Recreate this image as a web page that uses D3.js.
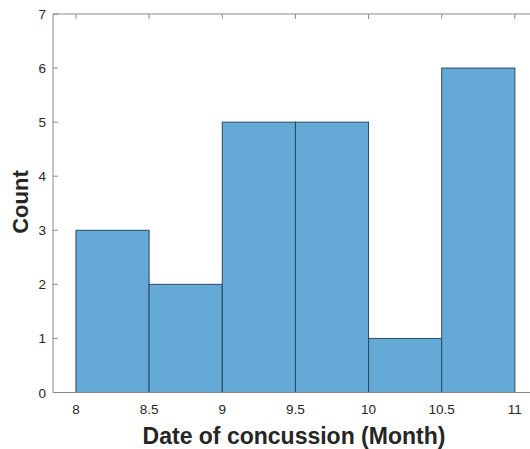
<!DOCTYPE html>
<html><head><meta charset="utf-8">
<script src="https://cdn.jsdelivr.net/npm/d3@7"></script>
<style>body{margin:0;background:#fff}svg{display:block}</style>
</head><body>
<script>
const binEdges = [8, 8.5, 9, 9.5, 10, 10.5, 11];
const counts = [3, 2, 5, 5, 1, 6];
const xTicks = [8, 8.5, 9, 9.5, 10, 10.5, 11];
const yTicks = [0, 1, 2, 3, 4, 5, 6, 7];

const W = 530, H = 449;
const svg = d3.select("body").append("svg").attr("width", W).attr("height", H);
const mLeft = 53, mTop = 14, mBottom = 392.5;
const x = d3.scaleLinear().domain([7.843, 11.157]).range([mLeft, mLeft + (11.157 - 7.843) * 146.3]);
const y = d3.scaleLinear().domain([0, 7]).range([mBottom, mTop]);
const axisCol = "#8a8a8a", textCol = "#262626";
const font = "Helvetica, Arial, 'Liberation Sans', sans-serif";

const bins = counts.map((c, i) => ({x0: binEdges[i], x1: binEdges[i + 1], c}));
svg.selectAll("rect.bar").data(bins).enter().append("rect")
  .attr("x", d => x(d.x0)).attr("width", d => x(d.x1) - x(d.x0))
  .attr("y", d => y(d.c)).attr("height", d => y(0) - y(d.c))
  .attr("fill", "#65a9d7").attr("stroke", "#2a4a60").attr("stroke-width", 1);

const xr = x.range();
svg.append("line").attr("x1", mLeft).attr("x2", xr[1]).attr("y1", mBottom).attr("y2", mBottom).attr("stroke", axisCol);
svg.append("line").attr("x1", mLeft).attr("x2", xr[1]).attr("y1", mTop).attr("y2", mTop).attr("stroke", axisCol);
svg.append("line").attr("x1", mLeft).attr("x2", mLeft).attr("y1", mTop).attr("y2", mBottom).attr("stroke", axisCol);

const g = svg.append("g");
xTicks.forEach(t => {
  g.append("line").attr("x1", x(t)).attr("x2", x(t)).attr("y1", mTop).attr("y2", mTop + 5).attr("stroke", axisCol);
  g.append("text").attr("x", x(t)).attr("y", mBottom + 21).attr("text-anchor", "middle")
    .attr("font-family", font).attr("font-size", 13.5).attr("fill", textCol).text(t);
});
yTicks.forEach(t => {
  g.append("line").attr("x1", mLeft).attr("x2", mLeft + 5).attr("y1", y(t)).attr("y2", y(t)).attr("stroke", axisCol);
  g.append("text").attr("x", mLeft - 7).attr("y", y(t) + 5).attr("text-anchor", "end")
    .attr("font-family", font).attr("font-size", 13.5).attr("fill", textCol).text(t);
});

svg.append("text").attr("x", 294).attr("y", 444).attr("text-anchor", "middle")
  .attr("font-family", font).attr("font-size", 23).attr("font-weight", "bold").attr("fill", textCol)
  .text("Date of concussion (Month)");
svg.append("text").attr("transform", "translate(28,202) rotate(-90)").attr("text-anchor", "middle")
  .attr("font-family", font).attr("font-size", 22).attr("font-weight", "bold").attr("fill", textCol)
  .text("Count");
</script>
</body></html>
